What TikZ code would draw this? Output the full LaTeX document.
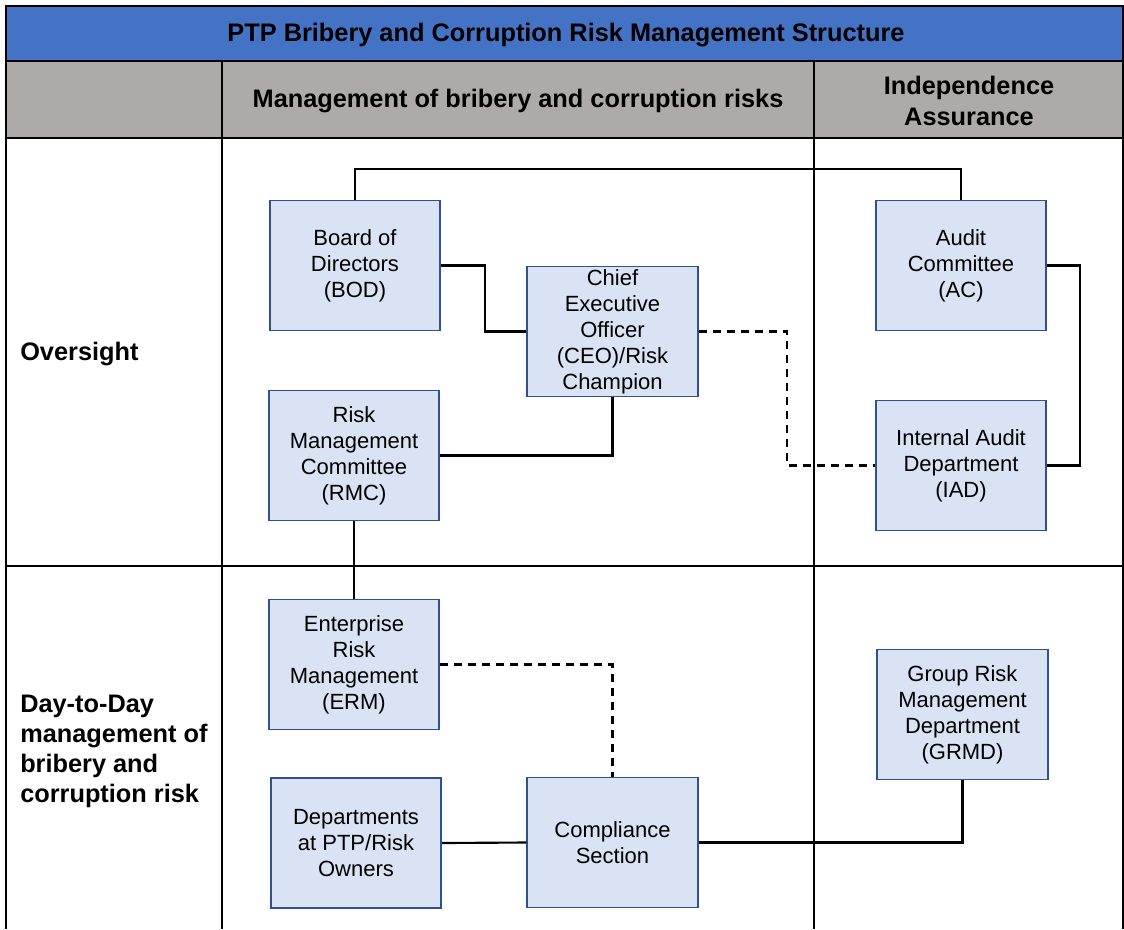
\documentclass[tikz,border=0pt]{standalone}
\usepackage{fontspec}
\setmainfont{Liberation Sans}
\definecolor{titleblue}{HTML}{4472C4}
\definecolor{headgray}{HTML}{AEAAAA}
\definecolor{boxfill}{HTML}{DAE3F3}
\definecolor{boxline}{HTML}{2F528F}
\begin{document}
\begin{tikzpicture}[x=0.75pt,y=-0.75pt,
  tbl/.style={line width=1.4pt,black},
  box/.style={draw=boxline,fill=boxfill,line width=1.3pt,minimum width=128pt,minimum height=97.5pt,
    align=center,inner sep=2pt,font=\fontsize{16.5}{19.5}\selectfont},
  conn/.style={line width=1.6pt,black},
  dconn/.style={conn,dash pattern=on 6pt off 4.5pt},
  hdr/.style={font=\fontsize{19}{23.25}\selectfont\bfseries,align=center},
  rowlab/.style={font=\fontsize{19}{22.5}\selectfont\bfseries,align=left,anchor=west,inner sep=0pt}]
\useasboundingbox (0,0) rectangle (1124,929);
% table
\fill[titleblue] (6,6) rectangle (1123,61);
\fill[headgray] (6,61) rectangle (1123,138);
\draw[tbl] (6,929) -- (6,6) -- (1123,6) -- (1123,929);
\draw[tbl] (6,61) -- (1123,61);
\draw[tbl] (6,138) -- (1123,138);
\draw[tbl] (6,566) -- (1123,566);
\draw[tbl] (222,61) -- (222,929);
\draw[tbl] (814,61) -- (814,929);
\node[hdr] (title) at (566,35) {PTP Bribery and Corruption Risk Management Structure};
\node[hdr] (h1) at (518,101) {Management of bribery and corruption risks};
\node[hdr] (h2) at (969,101) {Independence\\Assurance};
\node[rowlab] (r1) at (20,354) {Oversight};
\node[rowlab] (r2) at (20,751) {Day-to-Day\\management of\\bribery and\\corruption risk};
% boxes
\node[box] (bod) at (355,265.5) {Board of\\Directors\\(BOD)};
\node[box] (ceo) at (612.5,331.5) {Chief\\Executive\\Officer\\(CEO)/Risk\\Champion};
\node[box] (ac) at (961,265.5) {Audit\\Committee\\(AC)};
\node[box] (iad) at (961,465.5) {Internal Audit\\Department\\(IAD)};
\node[box] (rmc) at (354,455.5) {Risk\\Management\\Committee\\(RMC)};
\node[box] (erm) at (354,664.5) {Enterprise\\Risk\\Management\\(ERM)};
\node[box] (dept) at (356,843) {Departments\\at PTP/Risk\\Owners};
\node[box] (comp) at (612.5,842.5) {Compliance\\Section};
\node[box] (grmd) at (962.5,714.5) {Group Risk\\Management\\Department\\(GRMD)};
% connectors
\coordinate (topy) at (0,169);
\coordinate (k1) at (485,0);
\coordinate (k2) at (787,0);
\coordinate (k3) at (1080,0);
\draw[conn] (bod.north) |- (ac.north |- topy) -- (ac.north);
\draw[conn] (bod.east) -- (k1 |- bod.east) |- (ceo.west);
\draw[dconn] (ceo.east) -- (k2 |- ceo.east) |- (iad.west);
\draw[conn] (ac.east) -- (k3 |- ac.east) |- (iad.east);
\draw[conn] (ceo.south) |- (rmc.east);
\draw[conn] (rmc.south) -- (erm.north);
\draw[dconn] (erm.east) -| (comp.north);
\draw[conn] (dept.east) -- (comp.west);
\draw[conn] (comp.east) -| (grmd.south);
\end{tikzpicture}
\end{document}
